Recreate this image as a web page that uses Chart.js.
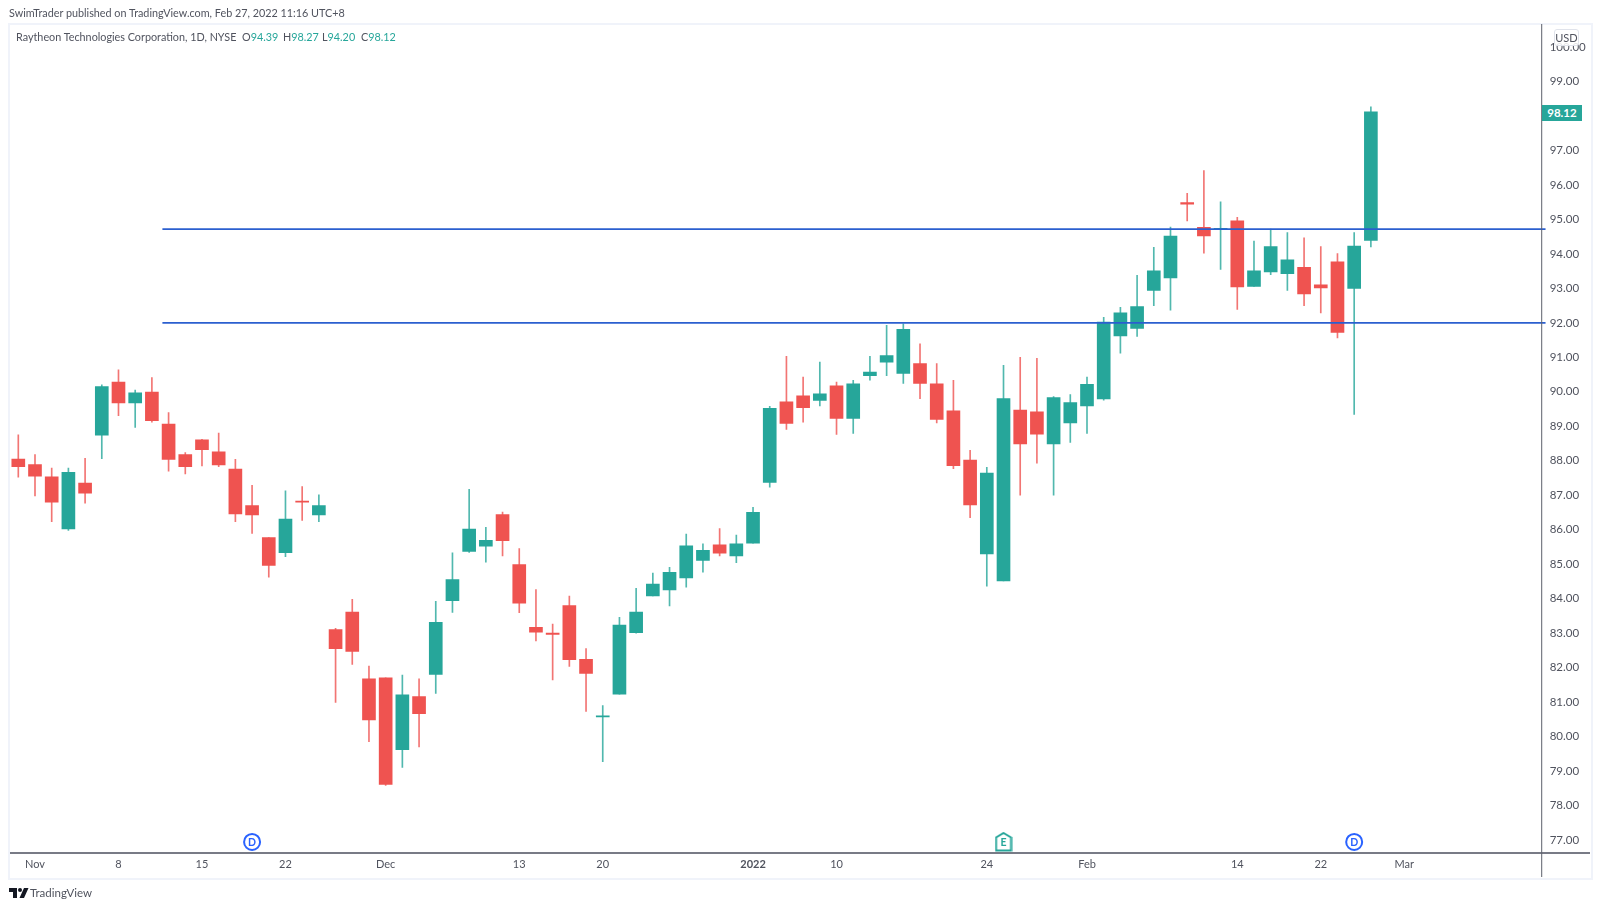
<!DOCTYPE html>
<html>
<head>
<meta charset="utf-8">
<title>RTX</title>
<script src="https://cdn.jsdelivr.net/npm/chart.js@4/dist/chart.umd.min.js"></script>
<style>
  html, body { margin: 0; padding: 0; background: #fff; }
  body { width: 1600px; height: 909px; position: relative; overflow: hidden; font-family: Lato, sans-serif; color: #50535e; }
  #panel { position: absolute; left: 8px; top: 23px; width: 1581px; height: 853px; border: 2px solid #f0f3fa; }
  canvas { position: absolute; left: 0; top: 0; }
  .txt { position: absolute; white-space: nowrap; font-size: 10.8px; line-height: 14px; }
  .up { color: #26a69a; }
  #lastPrice { position: absolute; left: 1542px; top: 105px; width: 40px; height: 16px; background: #26a69a; color: #fff; font-size: 11.5px; font-weight: 700; line-height: 16px; text-align: center; }
  #usd { position: absolute; left: 1555px; top: 30px; width: 23px; height: 15px; background: rgba(255,255,255,.85); border: 1px solid #e0e3eb; border-radius: 3px; font-size: 11px; line-height: 15px; text-align: center; margin: -1px 0 0 -1px; }
</style>
</head>
<body>
<div id="panel"></div>
<canvas id="chart" width="1600" height="909"></canvas>

<div class="txt" style="left:9px;top:6px">SwimTrader published on TradingView.com, Feb 27, 2022 11:16 UTC+8</div>
<div class="txt" style="left:16px;top:30px">Raytheon Technologies Corporation, 1D, NYSE</div>
<div class="txt" style="left:242px;top:30px">O<span class="up">94.39</span></div>
<div class="txt" style="left:283px;top:30px">H<span class="up">98.27</span></div>
<div class="txt" style="left:322px;top:30px">L<span class="up">94.20</span></div>
<div class="txt" style="left:361px;top:30px">C<span class="up">98.12</span></div>
<div id="usd">USD</div>
<div id="lastPrice">98.12</div>

<svg style="position:absolute;left:9px;top:888px" width="20" height="11" viewBox="0 0 20 11">
  <path d="M0 0h8v10H4V4H0z M15 0h4.5L15 10h-4.5z" fill="#131722"/>
  <circle cx="11" cy="2" r="2" fill="#131722"/>
</svg>
<div class="txt" style="left:30px;top:886px;font-size:11.5px">TradingView</div>

<script>
// candele giornaliere
const opens = [88.05,87.89,87.53,86.02,87.35,88.74,90.28,89.68,89.99,89.06,88.18,88.61,88.26,87.76,86.70,85.77,85.33,86.83,86.43,83.10,
  83.61,81.67,81.70,79.62,81.16,81.80,83.94,85.37,85.52,86.44,84.99,83.17,83.00,83.80,82.24,80.57,81.23,83.01,84.08,84.25,
  84.60,85.11,85.56,85.24,85.61,87.37,89.71,89.88,89.75,90.17,89.23,90.47,90.86,90.53,90.82,90.23,89.45,88.02,85.30,84.51,
  89.47,89.42,88.49,89.10,89.59,89.79,91.62,91.84,92.94,93.30,95.49,94.77,94.70,94.96,93.06,93.48,93.43,93.61,93.10,93.77,93.00,94.39];
const highs = [88.75,88.18,87.79,87.79,88.07,90.20,90.64,90.05,90.41,89.40,88.24,88.62,88.80,88.04,87.29,85.77,87.13,87.25,87.01,83.14,
  83.98,82.04,81.70,81.78,81.67,83.92,85.33,87.17,86.07,86.51,85.45,84.26,83.26,84.07,82.55,80.90,83.46,84.30,84.74,84.91,
  85.87,85.59,86.03,85.84,86.65,89.58,91.03,90.43,90.86,90.28,90.33,91.03,91.93,91.97,91.39,90.82,90.33,88.30,87.81,90.77,
  91.00,90.97,89.86,89.92,90.43,92.16,92.45,93.38,94.19,94.78,95.76,96.42,95.51,95.06,94.37,94.72,94.62,94.47,94.21,94.01,94.62,98.27];
const lows = [87.52,86.98,86.23,85.98,86.77,88.06,89.31,88.97,89.12,87.70,87.62,87.85,87.83,86.23,85.89,84.62,85.22,86.27,86.23,80.99,
  82.09,79.85,78.58,79.10,79.70,81.25,83.60,85.34,85.06,85.24,83.59,82.77,81.64,82.03,80.73,79.27,81.23,83.00,84.08,83.79,
  84.33,84.77,85.24,85.04,85.61,87.23,88.91,89.12,89.59,88.76,88.79,90.34,90.47,90.24,89.80,89.10,87.77,86.35,84.36,84.51,
  87.00,87.93,87.00,88.53,88.79,89.76,91.12,91.61,92.50,92.37,94.96,94.02,93.55,92.39,93.06,93.40,92.94,92.50,92.29,91.56,89.34,94.20];
const closes = [87.83,87.55,86.80,87.66,87.06,90.15,89.68,89.97,89.16,88.04,87.83,88.32,87.88,86.46,86.43,84.96,86.31,86.80,86.70,82.55,
  82.47,80.48,78.61,81.21,80.66,83.31,84.55,86.02,85.69,85.68,83.87,83.03,82.96,82.23,81.83,80.59,83.23,83.61,84.42,84.76,
  85.53,85.40,85.32,85.59,86.50,89.52,89.08,89.54,89.94,89.23,90.23,90.57,91.05,91.81,90.24,89.20,87.86,86.72,87.64,89.80,
  88.49,88.77,89.83,89.69,90.22,92.02,92.29,92.47,93.51,94.52,95.44,94.52,94.74,93.04,93.51,94.21,93.83,92.84,93.01,91.72,94.23,98.12];

const priceTicks = [77,78,79,80,81,82,83,84,85,86,87,88,89,90,91,92,93,94,95,96,97,98,99,100];
const dateTickIdx = [1,6,11,16,22,30,35,44,49,58,64,73,78,83];
const dateTickLabels = ['Nov','8','15','22','Dec','13','20','2022','10','24','Feb','14','22','Mar'];

const levelPrices = [94.72, 92.0];
const levelStart = 8.63;
const levelEnd = 91.46;
const markerIdx = [14, 59, 80];
const markerLetters = ['D', 'E', 'D'];
const markerPrice = 76.94;

const GREEN = '#26a69a', RED = '#ef5350', BLUE = '#2962ff';
const xMin = -0.497, xMax = 91.23;

const isUp = i => closes[i] >= opens[i];
const body = opens.map((o, i) => ({ x: i, y: [o, closes[i]] }));
const wick = opens.map((o, i) => ({ x: i, y: [lows[i], highs[i]] }));

// casetta per il marker degli utili
function housePoint() {
  const c = document.createElement('canvas');
  c.width = 18; c.height = 20;
  const g = c.getContext('2d');
  g.beginPath();
  g.moveTo(9, 1); g.lineTo(16.5, 5.5); g.lineTo(16.5, 18.5); g.lineTo(1.5, 18.5); g.lineTo(1.5, 5.5); g.closePath();
  g.fillStyle = '#fff'; g.fill();
  g.strokeStyle = GREEN; g.lineWidth = 2; g.stroke();
  return c;
}

const levelSets = levelPrices.map(p => ({
  type: 'line', order: 0, parsing: false, pointRadius: 0, clip: false,
  borderColor: '#2b5fcf', borderWidth: 1.6,
  data: [{ x: levelStart, y: p }, { x: levelEnd, y: p }]
}));

// cornice e lettere dei marker
const framePlugin = {
  id: 'frame',
  afterDatasetsDraw(chart) {
    const { ctx, chartArea: a, scales } = chart;
    ctx.save();
    ctx.fillStyle = '#787b86';
    ctx.fillRect(a.left, a.bottom - 1, 1590 - a.left, 2);
    ctx.fillStyle = '#5d606b';
    ctx.fillRect(a.right - 0.5, a.top, 1, 877 - a.top);
    ctx.font = '700 10.5px Lato';
    ctx.textAlign = 'center';
    ctx.textBaseline = 'middle';
    markerIdx.forEach((idx, i) => {
      ctx.fillStyle = markerLetters[i] === 'E' ? GREEN : BLUE;
      ctx.fillText(markerLetters[i], scales.x.getPixelForValue(idx), scales.y.getPixelForValue(markerPrice) + 0.5);
    });
    ctx.restore();
  }
};

new Chart(document.getElementById('chart'), {
  data: {
    datasets: [
      ...levelSets,
      {
        type: 'scatter', order: 0, clip: false,
        data: markerIdx.map(idx => ({ x: idx, y: markerPrice })),
        pointStyle: markerLetters.map(l => l === 'E' ? housePoint() : 'circle'),
        pointRadius: 8,
        pointBackgroundColor: '#fff',
        pointBorderColor: BLUE,
        pointBorderWidth: 2
      },
      {
        type: 'bar', order: 1, data: body, grouped: false,
        barThickness: 13, minBarLength: 1,
        backgroundColor: body.map((_, i) => isUp(i) ? GREEN : RED)
      },
      {
        type: 'bar', order: 2, data: wick, grouped: false,
        barThickness: 1,
        backgroundColor: wick.map((_, i) => isUp(i) ? 'rgba(38,166,154,.8)' : 'rgba(239,83,80,.8)')
      }
    ]
  },
  options: {
    responsive: false,
    animation: false,
    layout: { padding: { left: 9, top: 24, right: 10, bottom: 32 } },
    plugins: { legend: { display: false }, tooltip: { enabled: false } },
    scales: {
      x: {
        type: 'linear', min: xMin, max: xMax, offset: false,
        grid: { display: false, drawTicks: false, tickLength: 0, offset: false },
        border: { display: false },
        afterFit: s => { s.height = 24; },
        afterBuildTicks: s => { s.ticks = dateTickIdx.map(v => ({ value: v })); },
        ticks: {
          autoSkip: false, maxRotation: 0, padding: 5, color: '#50535e',
          font: c => ({ family: 'Lato', size: 11, weight: c.index === 7 ? '700' : '400' }),
          callback: (v, i) => dateTickLabels[i]
        }
      },
      y: {
        position: 'right', min: 76.62, max: 100.67,
        grid: { display: false, drawTicks: false, tickLength: 0 },
        border: { display: false },
        afterFit: s => { s.width = 48.3; },
        afterBuildTicks: s => { s.ticks = priceTicks.map(v => ({ value: v })); },
        ticks: {
          autoSkip: false, padding: 8, color: '#50535e',
          font: { family: 'Lato', size: 11.5 },
          callback: v => v.toFixed(2)
        }
      }
    }
  },
  plugins: [framePlugin]
});
</script>
</body>
</html>
